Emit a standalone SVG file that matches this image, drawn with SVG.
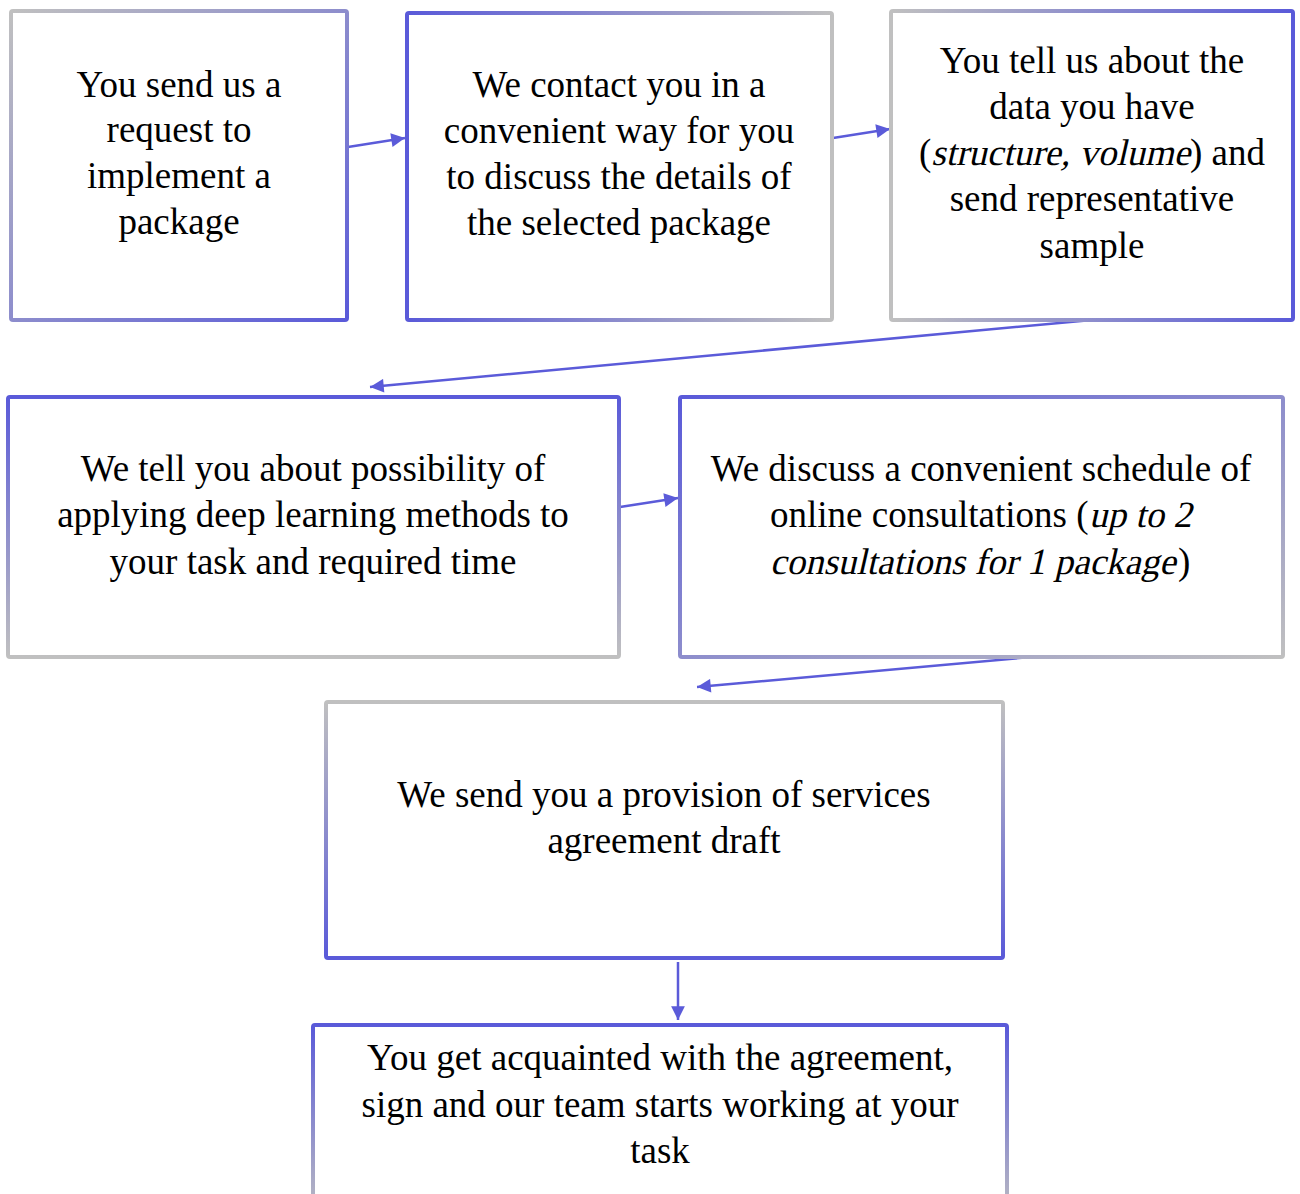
<svg xmlns="http://www.w3.org/2000/svg" width="1300" height="1194" viewBox="0 0 1300 1194">
<style>
.box{fill:#fff;stroke-width:4}
.t{font-family:"Liberation Serif","Times New Roman",serif;font-size:37px;fill:#000;text-anchor:middle}
.s{text-anchor:start}
.c{stroke:#5b5bd9;stroke-width:2.5;fill:none}
</style>
<defs>
<linearGradient id="gDiagGB" x1="0" y1="0" x2="1" y2="1"><stop offset="0" stop-color="#c0c0c0"/><stop offset="1" stop-color="#5a5ad9"/></linearGradient>
<linearGradient id="gDiagBG" x1="0" y1="0" x2="1" y2="1"><stop offset="0" stop-color="#5a5ad9"/><stop offset="1" stop-color="#c0c0c0"/></linearGradient>
<linearGradient id="gHBG" x1="0" y1="0" x2="1" y2="0"><stop offset="0" stop-color="#5a5ad9"/><stop offset="1" stop-color="#c0c0c0"/></linearGradient>
<linearGradient id="gHGB" x1="0" y1="0" x2="1" y2="0"><stop offset="0" stop-color="#c0c0c0"/><stop offset="1" stop-color="#5a5ad9"/></linearGradient>
<linearGradient id="gVBG" x1="0" y1="0" x2="0" y2="1"><stop offset="0" stop-color="#5a5ad9"/><stop offset="1" stop-color="#c0c0c0"/></linearGradient>
<linearGradient id="gVGB" x1="0" y1="0" x2="0" y2="1"><stop offset="0" stop-color="#c0c0c0"/><stop offset="1" stop-color="#5a5ad9"/></linearGradient>
<marker id="ah" viewBox="0 0 10 10" refX="10" refY="5" markerWidth="6" markerHeight="5.5" orient="auto" markerUnits="strokeWidth"><path d="M0,0 L10,5 L0,10 z" fill="#5b5bd9"/></marker>
</defs>

<g id="connectors">
<line class="c" x1="348" y1="147" x2="405" y2="138" marker-end="url(#ah)"/>
<line class="c" x1="833" y1="138" x2="890" y2="129" marker-end="url(#ah)"/>
<line class="c" x1="1092" y1="320" x2="370" y2="387" marker-end="url(#ah)"/>
<line class="c" x1="620" y1="507" x2="678" y2="498" marker-end="url(#ah)"/>
<line class="c" x1="1031" y1="657" x2="697" y2="687" marker-end="url(#ah)"/>
<line class="c" x1="678" y1="962" x2="678" y2="1020" marker-end="url(#ah)"/>
</g>

<g id="node1">
<rect class="box" x="11" y="11" width="336" height="309" rx="2" stroke="url(#gDiagGB)"/>
<text class="t" x="179" y="97">You send us a</text>
<text class="t" x="179" y="142">request to</text>
<text class="t" x="179" y="188">implement a</text>
<text class="t" x="179" y="234">package</text>
</g>

<g id="node2">
<rect class="box" x="407" y="13" width="425" height="307" rx="2" stroke="url(#gHBG)"/>
<text class="t" x="619" y="97">We contact you in a</text>
<text class="t" x="619" y="143">convenient way for you</text>
<text class="t" x="619" y="189">to discuss the details of</text>
<text class="t" x="619" y="235">the selected package</text>
</g>

<g id="node3">
<rect class="box" x="891" y="11" width="402" height="309" rx="2" stroke="url(#gHGB)"/>
<text class="t" x="1092" y="73">You tell us about the</text>
<text class="t" x="1092" y="119">data you have</text>
<text class="t s" x="919" y="165">(</text>
<text class="t s" transform="translate(931.3,165) skewX(-13)" x="0" y="0">structure, volume</text>
<text class="t s" x="1190" y="165">) and</text>
<text class="t" x="1092" y="211">send representative</text>
<text class="t" x="1092" y="258">sample</text>
</g>

<g id="node4">
<rect class="box" x="8" y="397" width="611" height="260" rx="2" stroke="url(#gVBG)"/>
<text class="t" x="313" y="481">We tell you about possibility of</text>
<text class="t" x="313" y="527">applying deep learning methods to</text>
<text class="t" x="313" y="574">your task and required time</text>
</g>

<g id="node5">
<rect class="box" x="680" y="397" width="603" height="260" rx="2" stroke="url(#gDiagBG)"/>
<text class="t" x="981" y="481">We discuss a convenient schedule of</text>
<text class="t s" x="770" y="527">online consultations (</text>
<text class="t s" transform="translate(1089,527) skewX(-13)" x="0" y="0">up to 2</text>
<text class="t s" transform="translate(770,574) skewX(-13)" x="0" y="0">consultations for 1 package</text>
<text class="t s" x="1178" y="574">)</text>
</g>

<g id="node6">
<rect class="box" x="326" y="702" width="677" height="256" rx="2" stroke="url(#gVGB)"/>
<text class="t" x="664" y="807">We send you a provision of services</text>
<text class="t" x="664" y="853">agreement draft</text>
</g>

<g id="node7">
<rect class="box" x="313" y="1025" width="694" height="200" rx="2" stroke="url(#gVBG)"/>
<text class="t" x="660" y="1070">You get acquainted with the agreement,</text>
<text class="t" x="660" y="1117">sign and our team starts working at your</text>
<text class="t" x="660" y="1163">task</text>
</g>
</svg>
